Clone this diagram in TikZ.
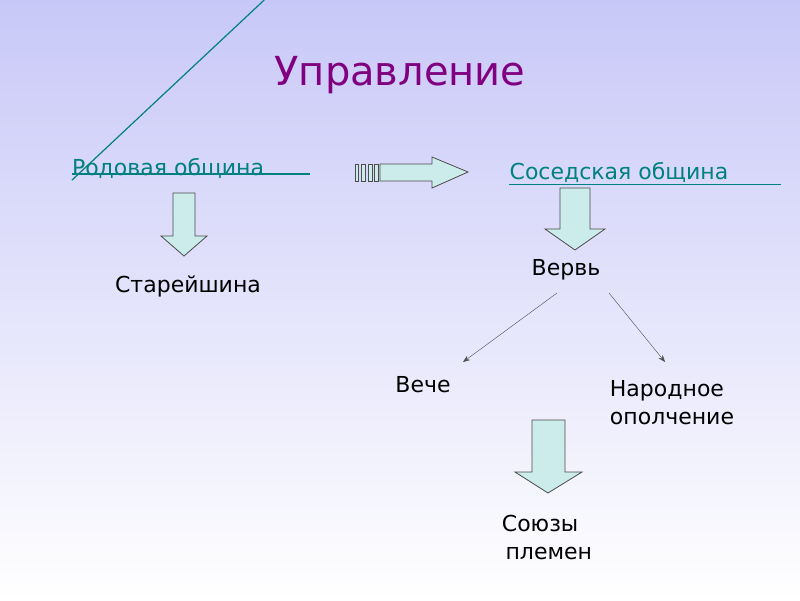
\documentclass[tikz,border=0pt]{standalone}
\usepackage{fontspec}
\setmainfont{DejaVu Sans}
\usetikzlibrary{arrows.meta}
\definecolor{ttl}{HTML}{800080}
\definecolor{lnk}{HTML}{008080}
\definecolor{bfill}{HTML}{CCEBEB}
\definecolor{bg}{HTML}{C8C8F8}
\tikzset{lbl/.style={font=\fontsize{22}{28}\selectfont, align=left},
 blk/.style={fill=bfill, draw=black!70, line width=0.8pt},
 ul/.style={lnk, line width=1.2pt}}
\begin{document}
\begin{tikzpicture}[x=1pt,y=-1pt]
\shade[top color=bg, bottom color=white] (0,0) rectangle (800,600);
\useasboundingbox (0,0) rectangle (800,600);
\node[text=ttl, font=\fontsize{40}{46}\selectfont] (title) at (400,75) {Управление};
\node[lbl, text=lnk, inner sep=0pt] (rod) at (168,168) {Родовая община};
\node[lbl, text=lnk, inner sep=0pt] (sos) at (619,172) {Соседская община};
\draw[ul] ([yshift=-2pt]rod.base west) ++(0,-3) -- ++(238,0);
\draw[ul] (sos.south west) ++(0,2) -- ++(272,0);
\draw[ul] (rod.south west) ++(0,2) -- (rod.south east |- 0,0) ;
\node[lbl] (star) at (188,286) {Старейшина};
\node[lbl] (verv) at (566,270) {Вервь};
\node[lbl] (veche) at (423,385) {Вече};
\node[lbl] (nar) at (672,403) {Народное\\ополчение};
\node[lbl] (soyuz) at (547,537) {Союзы\\ \,племен};
% down arrows
\draw[blk] (173,193) -- (195,193) -- (195,236) -- (207,236) -- (184,256) -- (161,236) -- (173,236) -- cycle;
\draw[blk] (560,188) -- (590,188) -- (590,229) -- (605,229) -- (575,250) -- (545,229) -- (560,229) -- cycle;
\draw[blk] (532,420) -- (565,420) -- (565,472) -- (582,472) -- (548,493) -- (515,472) -- (532,472) -- cycle;
% right striped arrow
\draw[blk] (380,164) -- (432,164) -- (432,157) -- (468,172) -- (432,188) -- (432,181) -- (380,181) -- cycle;
\foreach \x/\w in {355/3,361/4,368/4,374/4}{\draw[blk] (\x,164) rectangle (\x+\w,181);}
% thin arrows
\coordinate (a1) at (557,293); \coordinate (a2) at (463,362);
\coordinate (b1) at (609,293); \coordinate (b2) at (665,362);
\draw[-{Stealth[length=7pt]}, black!70, thin] (a1) -- (a2);
\draw[-{Stealth[length=7pt]}, black!70, thin] (b1) -- (b2);
\end{tikzpicture}
\end{document}
